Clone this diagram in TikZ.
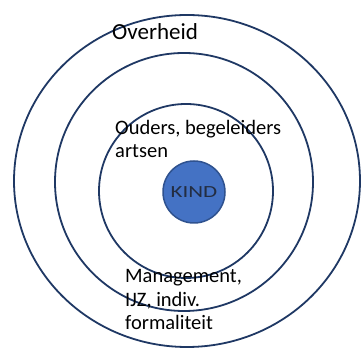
\documentclass[tikz,border=0pt]{standalone}
\usepackage{fontspec}
\setmainfont{Carlito}
\definecolor{ringblue}{RGB}{31,56,100}
\definecolor{kindfill}{RGB}{68,114,196}
\definecolor{kindline}{RGB}{47,82,143}
\definecolor{kindtext}{RGB}{35,45,65}
\begin{document}
\begin{tikzpicture}[x=1pt, y=1pt,
  ring/.style={draw=ringblue, line width=1.8pt},
  ringtext/.style={anchor=base west, align=left, inner sep=0pt, font=\fontsize{20.5}{23.5}\selectfont}]
 \useasboundingbox (0,0) rectangle (362,353);
 % the three rings
 \draw[ring](187,172) ellipse (173 and 166);
 \draw[ring](184,171) circle (129);
 \draw[ring](186,162) circle (87);
 \node[circle, fill=kindfill, draw=kindline, line width=1.5pt, minimum size=62pt, inner sep=0pt,
   text=kindtext, font=\fontsize{17}{17}\selectfont] (kind) at (194,161) {\scalebox{1.35}[1]{KIND}};
 % base of a multi-line node is its last line
 \node[ringtext, font=\fontsize{23}{24}\selectfont] (overheid) at (112,313) {Overheid};
 \node[ringtext] (ouders) at (115,195) {Ouders, begeleiders\\artsen};
 \node[ringtext] (management) at (125,23) {Management,\\IJZ, indiv.\\formaliteit};
\end{tikzpicture}
\end{document}
